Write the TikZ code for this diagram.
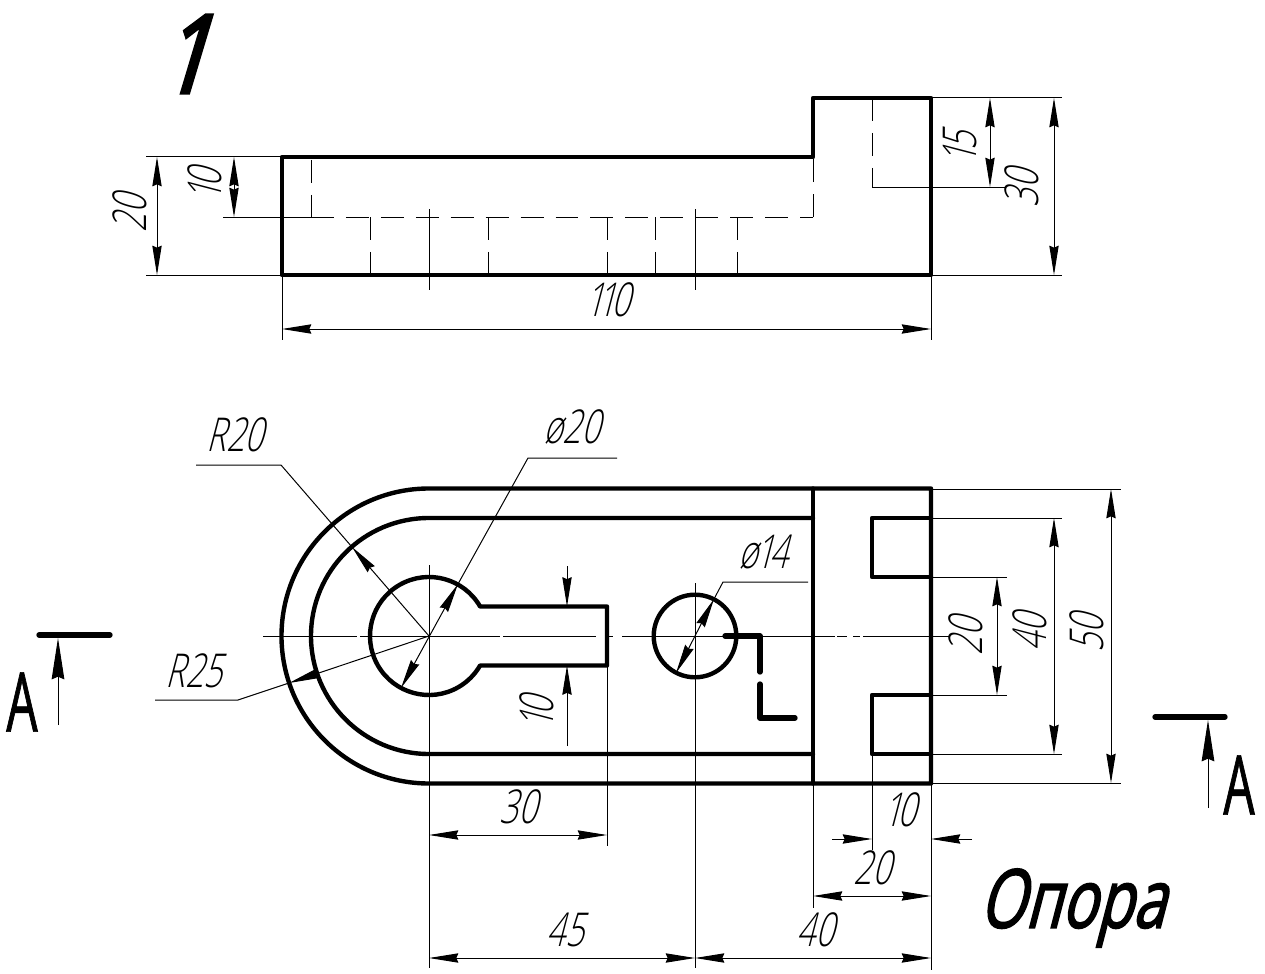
\documentclass[tikz,border=0pt]{standalone}
\usepackage{fontspec}
\usetikzlibrary{arrows.meta}
\newfontfamily\gostlight[FakeSlant=0.26,FakeStretch=0.7,Numbers=Proportional]{Open Sans Light}
\newfontfamily\gostbold[FakeSlant=0.26,FakeStretch=0.72,FakeBold=2]{Open Sans}
\newfontfamily\gostone[FakeSlant=0.3,FakeStretch=0.8,FakeBold=3]{Open Sans}
\newfontfamily\gostup[FakeStretch=0.6,FakeBold=0.8]{Open Sans}
\tikzset{
  contour/.style={line width=3.3pt,line join=round,line cap=round},
  thinline/.style={line width=0.75pt},
  hidden/.style={line width=0.7pt,dash pattern=on 17.2pt off 9pt},
  dimline/.style={line width=0.75pt,{Stealth[length=22pt,width=7pt,inset=1.5pt]}-{Stealth[length=22pt,width=7pt,inset=1.5pt]}},
  dimtip/.style={line width=0.75pt,-{Stealth[length=22pt,width=7pt,inset=1.5pt]}},
  secttip/.style={line width=0.75pt,-{Stealth[length=31pt,width=9.5pt,inset=2pt]}},
  sectionline/.style={line width=4pt,line cap=round,line join=round},
  dimtext/.style={inner sep=0pt,font=\gostlight\fontsize{35}{35}\selectfont},
  bigtext/.style={inner sep=0pt,font=\gostup\fontsize{62}{62}\selectfont},
  boldtext/.style={inner sep=0pt,font=\gostbold\fontsize{61}{61}\selectfont}
}
\begin{document}
\begin{tikzpicture}[x=0.75pt,y=-0.75pt]
\path[use as bounding box,fill=white] (0,0) rectangle (1265,974);

% ---- upper view
\draw[contour] (282,157) -- (813,157) -- (813,98) -- (931,98) -- (931,275) -- (282,275) -- cycle;
\draw[hidden] (311,160) -- (311,217);
\draw[hidden] (311,217) -- (813,217);
\draw[hidden] (813,217) -- (813,157);
\draw[hidden] (872,98) -- (872,187);
\foreach \hx in {370,488,607,655,737} \draw[hidden] (\hx,217) -- (\hx,275);
\draw[thinline] (429,209) -- (429,290);
\draw[thinline] (695,209) -- (695,290);
\draw[thinline] (872,187) -- (1005,187);
\draw[thinline] (223,217) -- (311,217);
% extension lines
\draw[thinline] (146,157) -- (282,157);
\draw[thinline] (146,275) -- (282,275);
\draw[thinline] (282,275) -- (282,340);
\draw[thinline] (931,275) -- (931,340);
\draw[thinline] (931,98) -- (1062,98);
\draw[thinline] (931,275) -- (1062,275);
% dimensions
\draw[dimline] (157,157) -- (157,275);
\draw[dimline] (234,157) -- (234,217);
\draw[dimline] (282,329) -- (931,329);
\draw[dimline] (990,98) -- (990,187);
\draw[dimline] (1054,98) -- (1054,275);
\node[dimtext,rotate=90] (d20a) at (130,214) {20};
\node[dimtext,rotate=90] (d10a) at (205,184) {10};
\node[dimtext] (d110) at (609,300) {110};
\node[dimtext,rotate=90] (d15) at (960,147) {15};
\node[dimtext,rotate=90] (d30a) at (1022,189) {30};

% ---- lower view
\draw[contour] (931,488.5) -- (429,488.5) arc[start angle=270,end angle=90,radius=147.5] -- (931,783.5) -- cycle;
\draw[contour] (813,518) -- (429,518) arc[start angle=270,end angle=90,radius=118] -- (813,754);
\draw[contour] (813,488.5) -- (813,783.5);
\draw[contour] (607,606.5) -- (480.1,606.5) arc[start angle=330,end angle=30,radius=59] -- (607,665.5) -- cycle;
\draw[contour] (695,636) circle[radius=41.3];
\draw[contour] (931,518) -- (872,518) -- (872,577) -- (931,577);
\draw[contour] (931,695) -- (872,695) -- (872,754) -- (931,754);
% section cut inside the view
\draw[sectionline] (725,636) -- (760,636) -- (760,672);
\draw[sectionline] (760,684) -- (760,718) -- (795,718);
% centre lines
\foreach \ca/\cb in {263/357,360/500,503/596,609/613,622/813,815/835,837/847,853/860,863/950}
  \draw[thinline] (\ca,636) -- (\cb,636);
\draw[thinline] (429,565) -- (429,968);
\draw[thinline] (695,583) -- (695,968);
% extension lines
\draw[thinline] (607,665) -- (607,846);
\draw[thinline] (813,783) -- (813,908);
\draw[thinline] (872,754) -- (872,850);
\draw[thinline] (931,783) -- (931,970);
\draw[thinline] (931,489) -- (1121,489);
\draw[thinline] (931,783.5) -- (1121,783.5);
\draw[thinline] (931,518) -- (1062,518);
\draw[thinline] (931,754) -- (1062,754);
\draw[thinline] (931,577) -- (1007,577);
\draw[thinline] (931,695) -- (1007,695);
% dimensions
\draw[dimline] (429,835) -- (607,835);
\draw[dimline] (429,958) -- (695,958);
\draw[dimline] (695,958) -- (931,958);
\draw[dimline] (813,896) -- (931,896);
\draw[dimtip] (832,839) -- (872,839);
\draw[dimtip] (972,839) -- (931,839);
\draw[dimline] (1111,489) -- (1111,783);
\draw[dimline] (1054,518) -- (1054,754);
\draw[dimline] (997,577) -- (997,695);
\draw[dimtip] (567,566) -- (567,606.5);
\draw[dimtip] (567,746) -- (567,665.5);
% leaders
\draw[dimtip] (429,636) -- (352,547);
\draw[thinline] (352,547) -- (281,465) -- (196,465);
\draw[dimline] (401,688) -- (458,584);
\draw[thinline] (458,584) -- (528,458) -- (617,458);
\draw[dimline] (676,673) -- (714,599);
\draw[thinline] (714,599) -- (723,582) -- (808,582);
\draw[dimtip] (429,636) -- (289,683);
\draw[thinline] (289,683) -- (238,700) -- (155,700);
\node[dimtext] (r20) at (235,435) {R20};
\node[dimtext] (p20) at (572,427) {ø20};
\node[dimtext] (p14) at (763,552) {ø14};
\node[dimtext] (r25) at (194,671) {R25};
\node[dimtext] (d30b) at (518,807) {30};
\node[dimtext] (d45) at (565,930) {45};
\node[dimtext] (d40a) at (815,930) {40};
\node[dimtext] (d20b) at (872,868) {20};
\node[dimtext] (d10c) at (901,810) {10};
\node[dimtext,rotate=90] (d10b) at (537,712) {10};
\node[dimtext,rotate=90] (d20c) at (966,637) {20};
\node[dimtext,rotate=90] (d40b) at (1030,633) {40};
\node[dimtext,rotate=90] (d50) at (1087,634) {50};

% ---- section marks
\draw[sectionline] (39,635) -- (110,635);
\draw[secttip] (58,725) -- (58,638);
\node[bigtext] (secl) at (22,702) {A};
\draw[sectionline] (1155,717) -- (1225,717);
\draw[secttip] (1208,808) -- (1208,720);
\node[bigtext] (secr) at (1239,785) {A};

% ---- titles
\node[boldtext,font=\gostone\fontsize{82}{82}\selectfont] (num) at (183,54) {1};
\node[boldtext] (title) at (1072,908) {Опора};
\end{tikzpicture}
\end{document}
